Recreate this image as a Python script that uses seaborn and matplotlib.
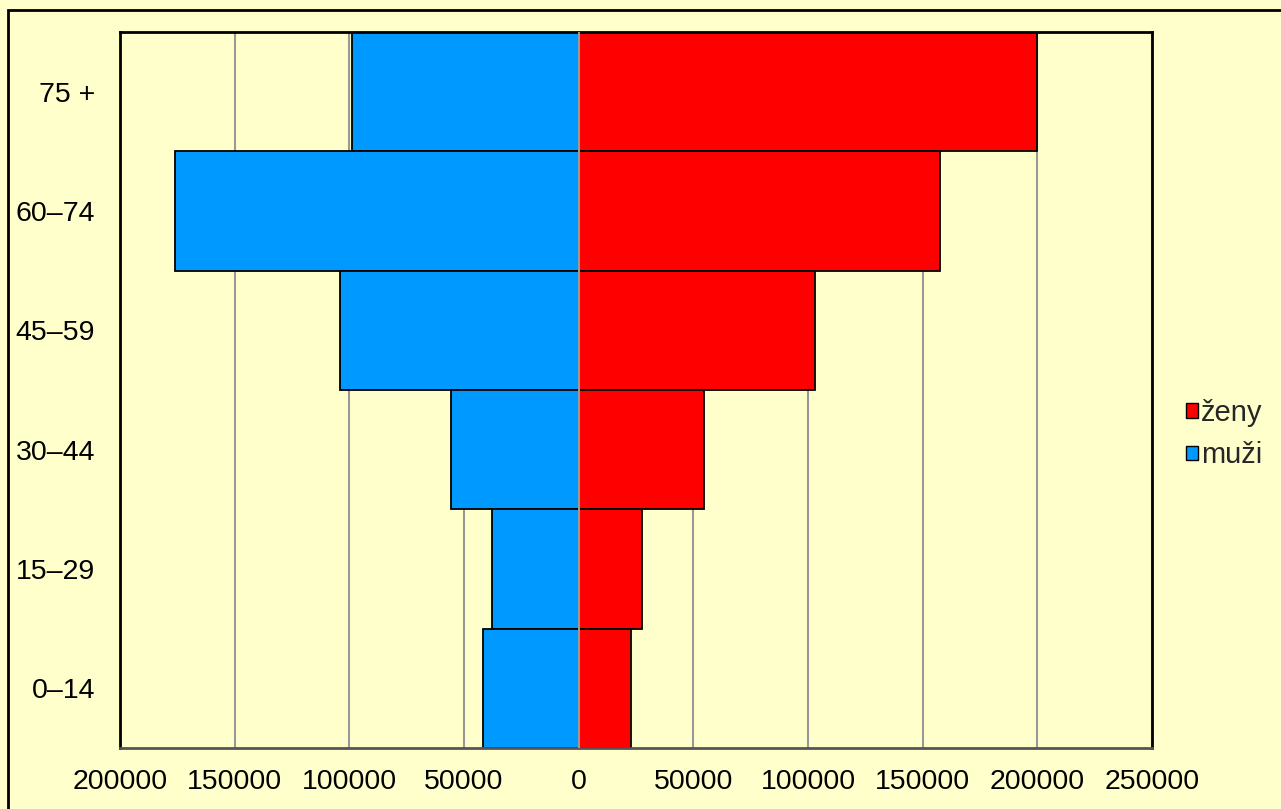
import numpy as np
import pandas as pd
import seaborn as sns
import matplotlib.pyplot as plt
from matplotlib.patches import Patch, Rectangle
from matplotlib.ticker import FuncFormatter

sns.set_style("white")
plt.rcParams['font.family'] = ['Liberation Sans', 'DejaVu Sans']

# age groups, top to bottom
age_groups = ['75 +', '60–74', '45–59', '30–44', '15–29', '0–14']
zeny = [200000, 157600, 103000, 54600, 27500, 22700]
muzi = [98700, 176000, 104000, 55500, 37600, 41500]
x_ticks = [-200000, -150000, -100000, -50000, 0, 50000, 100000, 150000, 200000, 250000]

bg = '#FFFFCC'
red = '#FF0000'
blue = '#0099FF'

df = pd.DataFrame({'age': age_groups, 'zeny': zeny, 'muzi': [-m for m in muzi]})

fig = plt.figure(figsize=(12.81, 8.09), dpi=100, facecolor=bg)
ax = fig.add_axes([120 / 1281, 1 - 748 / 809, (1152 - 120) / 1281, (748 - 32) / 809])
ax.set_facecolor(bg)

# grid behind bars
for t in x_ticks:
    ax.axvline(t, color='#999999', lw=1.5, zorder=0)

sns.barplot(data=df, x='muzi', y='age', orient='h', order=age_groups, width=1.0,
            color=blue, saturation=1, edgecolor='black', linewidth=1.3, ax=ax, zorder=2)
sns.barplot(data=df, x='zeny', y='age', orient='h', order=age_groups, width=1.0,
            color=red, saturation=1, edgecolor='black', linewidth=1.3, ax=ax, zorder=2)
ax.axvline(0, color='#999999', lw=1.5, zorder=3)

ax.set_xlim(-200000, 250000)
ax.set_ylim(5.5, -0.5)
ax.set_xticks(x_ticks)
ax.xaxis.set_major_formatter(FuncFormatter(lambda v, p: f'{abs(int(v))}'))
ax.set_xlabel('')
ax.set_ylabel('')
ax.tick_params(axis='both', length=0, labelsize=20.5, colors='black')
ax.tick_params(axis='x', pad=15)
ax.tick_params(axis='y', pad=18)
for s in ax.spines.values():
    s.set_visible(True)
    s.set_color('black')
    s.set_linewidth(2)
ax.spines['bottom'].set_color('#555555')

handles = [Patch(facecolor=red, edgecolor='black', label='ženy'),
           Patch(facecolor=blue, edgecolor='black', label='muži')]
fig.legend(handles=handles, loc='center left', bbox_to_anchor=(1186 / 1281, 1 - 434 / 809),
           frameon=False, fontsize=21, handlelength=0.4, handleheight=0.4,
           handletextpad=0.1, labelspacing=0.5, borderpad=0, borderaxespad=0)

# outer border
fig.patches.append(Rectangle((8 / 1281, -0.05), 1.1, 1 - 10 / 809 + 0.05,
                             transform=fig.transFigure, fill=False,
                             edgecolor='black', lw=2, figure=fig))

fig.savefig('out.png', dpi=100, facecolor=bg)
